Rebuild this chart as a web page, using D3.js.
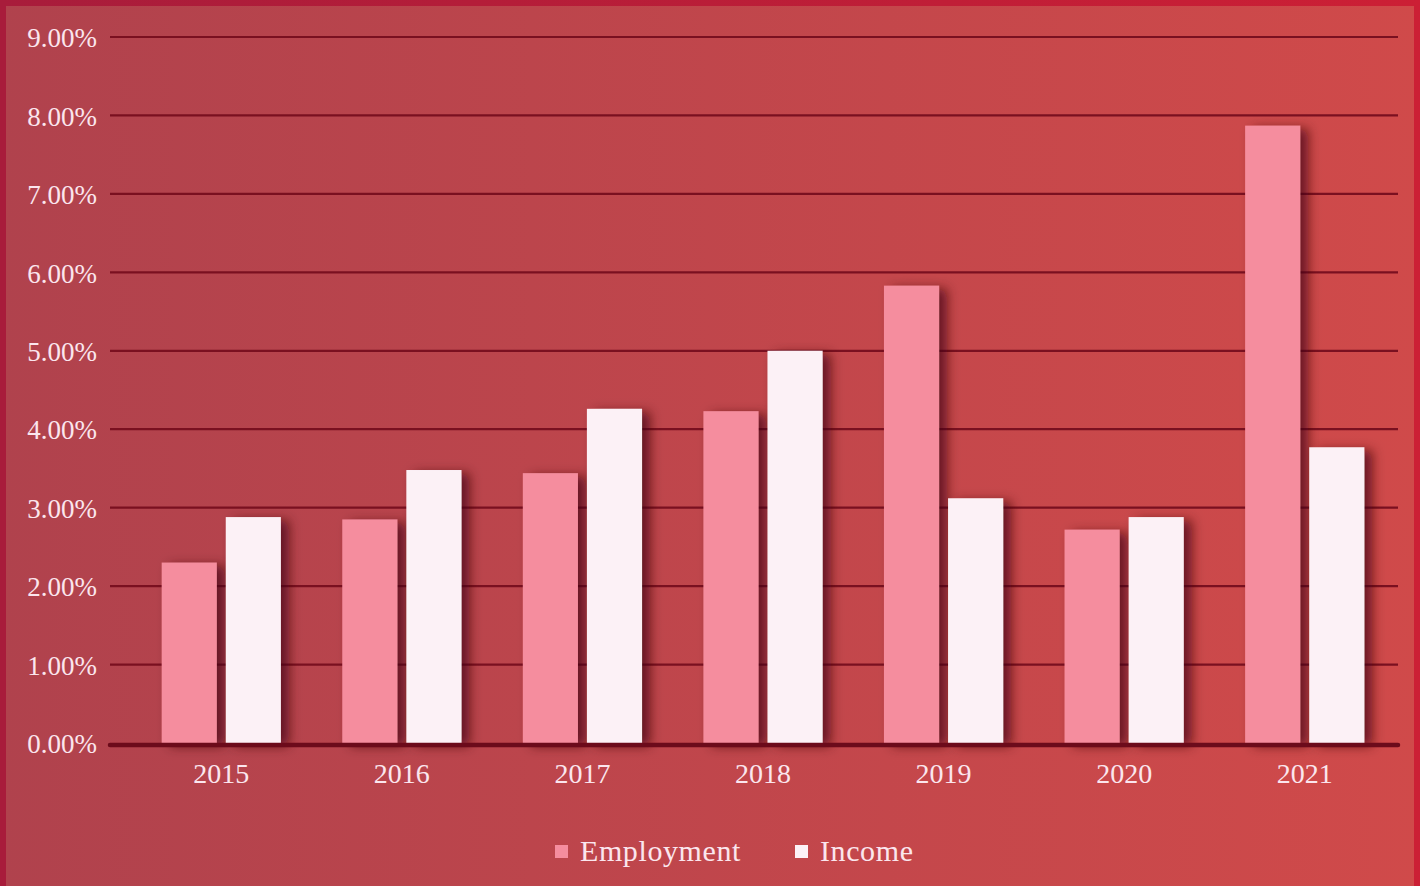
<!DOCTYPE html>
<html>
<head>
<meta charset="utf-8">
<script src="https://cdn.jsdelivr.net/npm/d3@7"></script>
<style>
  html, body { margin: 0; padding: 0; background: #b8454d; }
  svg { display: block; }
  text { font-family: "Liberation Serif", "Times New Roman", serif; fill: #fbe6ee; }
</style>
</head>
<body>
<svg id="chart" width="1420" height="886"></svg>
<script>
// Annual growth rates, in percent
const years = ["2015", "2016", "2017", "2018", "2019", "2020", "2021"];
const employment = [2.30, 2.85, 3.44, 4.23, 5.83, 2.72, 7.87];
const income = [2.88, 3.48, 4.26, 5.00, 3.12, 2.88, 3.77];
const seriesNames = ["Employment", "Income"];
const seriesColors = ["#f58d9e", "#fcf1f6"];
const yTicks = [0, 1, 2, 3, 4, 5, 6, 7, 8, 9];

const W = 1420, H = 886;
const svg = d3.select("#chart");
const defs = svg.append("defs");

// background gradient
const bg = defs.append("linearGradient").attr("id", "bg").attr("x1", 0).attr("x2", 1).attr("y1", 0).attr("y2", 0);
bg.append("stop").attr("offset", "0%").attr("stop-color", "#b0424d");
bg.append("stop").attr("offset", "100%").attr("stop-color", "#d04a4a");
const border = defs.append("linearGradient").attr("id", "border").attr("x1", 0).attr("x2", 1).attr("y1", 0).attr("y2", 0);
border.append("stop").attr("offset", "0%").attr("stop-color", "#a81c3b");
border.append("stop").attr("offset", "100%").attr("stop-color", "#cc1f35");

// soft shadow cast by each bar
const shadow = defs.append("filter").attr("id", "barShadow")
  .attr("x", "-30%").attr("y", "-10%").attr("width", "190%").attr("height", "130%");
shadow.append("feDropShadow").attr("dx", 8).attr("dy", 3).attr("stdDeviation", 6)
  .attr("flood-color", "#40050f").attr("flood-opacity", 0.7);

svg.append("rect").attr("width", W).attr("height", H).attr("fill", "url(#bg)");
svg.append("rect").attr("x", 0).attr("y", 0).attr("width", W).attr("height", H + 20)
  .attr("fill", "none").attr("stroke", "url(#border)").attr("stroke-width", 12);

const plot = { left: 110, right: 1398, top: 37, bottom: 743 };

const y = d3.scaleLinear().domain([0, 9]).range([plot.bottom, plot.top]);
const x0 = d3.scaleBand().domain(years).range([131, 1395]).paddingInner(0.34).paddingOuter(0.17);
const x1 = d3.scaleBand().domain(seriesNames).range([0, x0.bandwidth()]).paddingInner(0.14);

// gridlines
svg.append("g").selectAll("line").data(yTicks.filter(d => d > 0)).join("line")
  .attr("x1", plot.left).attr("x2", plot.right)
  .attr("y1", d => y(d)).attr("y2", d => y(d))
  .attr("stroke", "#7a1020").attr("stroke-width", 2.2);

// y-axis labels
const yAxis = d3.axisLeft(y).tickValues(yTicks).tickFormat(d => d.toFixed(2) + "%").tickSize(0).tickPadding(0);
const gy = svg.append("g").attr("transform", "translate(97,0)").call(yAxis);
gy.select(".domain").remove();
gy.selectAll("text").attr("font-size", 27).attr("dy", "0.36em")
  .style("font-family", "Liberation Serif, serif").attr("fill", "#fbe6ee");

// bars
const rows = years.map((yr, i) => ({ year: yr, vals: [employment[i], income[i]] }));
const groups = svg.append("g").selectAll("g").data(rows).join("g")
  .attr("transform", d => `translate(${x0(d.year)},0)`);
groups.selectAll("rect").data(d => d.vals.map((v, j) => ({ key: seriesNames[j], v, j }))).join("rect")
  .attr("x", d => x1(d.key))
  .attr("width", x1.bandwidth())
  .attr("y", d => y(d.v))
  .attr("height", d => y(0) - y(d.v))
  .attr("fill", d => seriesColors[d.j])
  .attr("filter", "url(#barShadow)");

// baseline
svg.append("line").attr("x1", plot.left).attr("x2", plot.right)
  .attr("y1", y(0) + 2).attr("y2", y(0) + 2)
  .attr("stroke", "#6c0b1b").attr("stroke-width", 4.5).attr("stroke-linecap", "round");

// x-axis labels
const xAxis = d3.axisBottom(x0).tickSize(0).tickPadding(0);
const gx = svg.append("g").attr("transform", `translate(0,${plot.bottom})`).call(xAxis);
gx.select(".domain").remove();
gx.selectAll("text").attr("font-size", 28).attr("dy", "40px")
  .style("font-family", "Liberation Serif, serif").attr("fill", "#fbe6ee");

// legend
const legend = svg.append("g");
const legendItems = [{ x: 555, name: seriesNames[0], c: seriesColors[0] }, { x: 795, name: seriesNames[1], c: seriesColors[1] }];
legendItems.forEach(it => {
  legend.append("rect").attr("x", it.x).attr("y", 845).attr("width", 13).attr("height", 13).attr("fill", it.c);
  legend.append("text").attr("x", it.x + 25).attr("y", 861).attr("font-size", 30)
    .attr("letter-spacing", "0.6px").text(it.name);
});
</script>
</body>
</html>
